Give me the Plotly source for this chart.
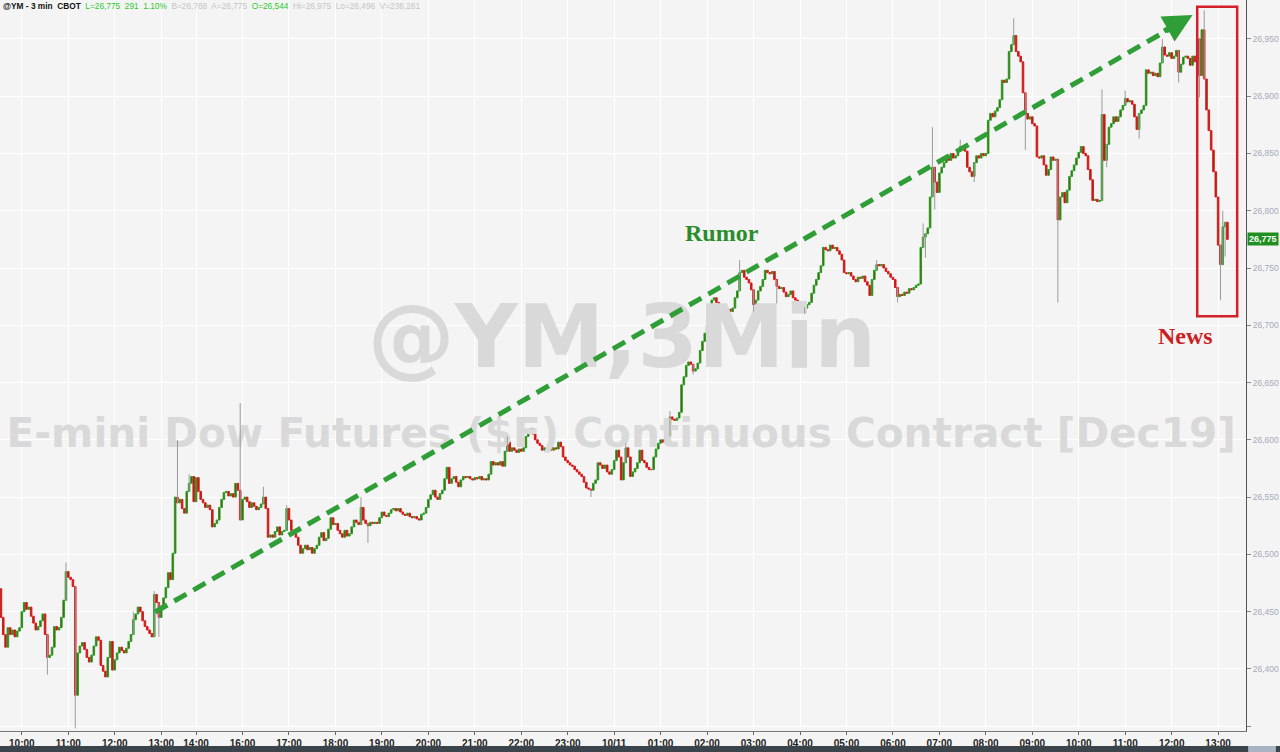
import plotly.graph_objects as go

# ---------------- DATA (3-minute candles) ----------------
first_open = 26470
closes_by_hour = [
    # 09:33-10:30
    [26445, 26430, 26419, 26436, 26430, 26434, 26428, 26433, 26436, 26450,
     26458, 26452, 26454, 26446, 26440, 26434, 26437, 26442, 26448, 26430],
    [26410, 26412, 26419, 26437, 26434, 26436, 26445, 26460, 26485, 26480,
     26478, 26472, 26377, 26414, 26420, 26423, 26417, 26410, 26406, 26412],
    [26420, 26428, 26425, 26403, 26398, 26393, 26410, 26424, 26399, 26408,
     26414, 26419, 26416, 26414, 26418, 26424, 26430, 26443, 26448, 26454],
    [26450, 26442, 26437, 26434, 26431, 26428, 26465, 26458, 26445, 26455,
     26462, 26471, 26484, 26478],
    # 13:30-13:57
    [26501, 26550, 26545, 26548, 26540, 26536, 26555, 26562, 26568, 26546],
    # 15:00
    [26567, 26555, 26548, 26545, 26541, 26543, 26539, 26524, 26527, 26530,
     26541, 26548, 26554, 26555, 26551, 26553, 26550, 26562, 26556, 26530],
    # 16:00
    [26548, 26550, 26546, 26541, 26545, 26542, 26539, 26541, 26544, 26550,
     26540, 26515, 26517, 26515, 26520, 26524, 26517, 26520, 26521, 26540],
    # 17:00
    [26530, 26521, 26518, 26515, 26508, 26501, 26505, 26508, 26504, 26506,
     26501, 26505, 26508, 26515, 26519, 26512, 26514, 26522, 26532, 26526],
    # 18:00
    [26527, 26521, 26518, 26515, 26521, 26516, 26518, 26524, 26530, 26528,
     26526, 26541, 26530, 26527, 26525, 26528, 26527, 26528, 26527, 26532],
    # 19:00
    [26537, 26534, 26533, 26536, 26539, 26540, 26538, 26540, 26537, 26535,
     26534, 26536, 26533, 26532, 26533, 26531, 26530, 26535, 26536, 26541],
    # 20:00
    [26548, 26552, 26556, 26550, 26548, 26553, 26556, 26566, 26576, 26562,
     26566, 26568, 26563, 26559, 26565, 26568, 26567, 26568, 26566, 26565],
    # 21:00
    [26567, 26566, 26568, 26565, 26566, 26565, 26570, 26581, 26578, 26580,
     26578, 26581, 26577, 26590, 26598, 26590, 26593, 26591, 26589, 26592],
    # 22:00
    [26590, 26593, 26603, 26606, 26610, 26605, 26600, 26597, 26595, 26591,
     26593, 26592, 26594, 26591, 26593, 26592, 26598, 26594, 26585, 26582],
    # 23:00
    [26580, 26578, 26577, 26574, 26572, 26570, 26568, 26563, 26558, 26557,
     26556, 26562, 26565, 26580, 26578, 26575, 26578, 26572, 26570, 26574],
    # 00:00 (10/11)
    [26582, 26591, 26585, 26565, 26580, 26593, 26585, 26568, 26572, 26575,
     26580, 26591, 26582, 26580, 26576, 26574, 26574, 26585, 26592, 26597],
    # 01:00
    [26600, 26598, 26604, 26603, 26620, 26618, 26617, 26619, 26624, 26648,
     26655, 26665, 26668, 26666, 26660, 26662, 26667, 26678, 26686, 26693],
    # 02:00
    [26700, 26707, 26722, 26724, 26720, 26718, 26715, 26713, 26711, 26714,
     26712, 26715, 26724, 26730, 26746, 26748, 26742, 26740, 26737, 26731],
    # 03:00
    [26718, 26722, 26730, 26734, 26740, 26748, 26746, 26745, 26747, 26740,
     26734, 26732, 26733, 26729, 26725, 26727, 26730, 26724, 26722, 26720],
    # 04:00
    [26718, 26716, 26715, 26718, 26720, 26728, 26735, 26740, 26746, 26752,
     26768, 26766, 26765, 26770, 26767, 26768, 26765, 26762, 26757, 26746],
    # 05:00
    [26745, 26746, 26743, 26740, 26738, 26742, 26741, 26743, 26738, 26735,
     26726, 26740, 26748, 26753, 26752, 26753, 26750, 26747, 26745, 26742],
    # 06:00
    [26740, 26733, 26725, 26727, 26726, 26729, 26728, 26732, 26731, 26733,
     26735, 26736, 26768, 26777, 26780, 26785, 26812, 26838, 26825, 26816],
    # 07:00
    [26833, 26838, 26842, 26848, 26844, 26850, 26846, 26848, 26852, 26856,
     26855, 26852, 26838, 26834, 26830, 26842, 26848, 26846, 26850, 26848],
    # 08:00
    [26850, 26879, 26885, 26882, 26887, 26890, 26897, 26914, 26912, 26915,
     26939, 26945, 26953, 26939, 26935, 26930, 26903, 26885, 26880, 26882],
    # 09:00
    [26876, 26874, 26847, 26846, 26848, 26840, 26831, 26836, 26847, 26844,
     26845, 26792, 26812, 26816, 26807, 26818, 26830, 26835, 26840, 26846],
    # 10:00
    [26851, 26856, 26850, 26848, 26836, 26827, 26809, 26810, 26808, 26809,
     26884, 26844, 26858, 26873, 26876, 26882, 26878, 26882, 26888, 26892],
    # 11:00
    [26898, 26895, 26896, 26893, 26882, 26871, 26885, 26888, 26892, 26923,
     26920, 26921, 26918, 26920, 26917, 26929, 26943, 26936, 26935, 26938],
    # 12:00
    [26933, 26935, 26940, 26921, 26928, 26934, 26935, 26933, 26927, 26935,
     26930, 26950, 26918, 26958, 26915, 26888, 26870, 26853, 26834, 26812],
    # 13:00
    [26770, 26753, 26786, 26790, 26775],
]

# wicks that stick out of the bodies (candle index -> price)
wick_hi_idx = [28, 57, 66, 76, 81, 103, 113, 123, 155, 218, 269, 288, 318, 377,
               397, 401, 413, 436, 474, 484, 500, 515, 518, 526]
wick_hi_val = [26493, 26450, 26468, 26600, 26570, 26632, 26559, 26543, 26550, 26603,
               26597, 26625, 26757, 26757, 26789, 26873, 26862, 26968, 26906, 26905,
               26950, 26970, 26975, 26800]
wick_lo_idx = [20, 32, 68, 158, 254, 298, 324, 334, 346, 386, 398, 402, 419, 441,
               455, 476, 490, 507, 515, 516, 525, 527]
wick_lo_val = [26395, 26348, 26428, 26510, 26550, 26657, 26712, 26719, 26710, 26720,
               26759, 26801, 26825, 26853, 26720, 26838, 26863, 26912, 26903, 26899,
               26722, 26760]

tick_idx = [9, 29, 49, 69, 84, 104, 124, 144, 164, 184, 204, 224, 244, 264, 284,
            304, 324, 344, 364, 384, 404, 424, 444, 464, 484, 504, 524]
tick_text = ["10:00", "11:00", "12:00", "13:00", "14:00", "16:00", "17:00", "18:00",
             "19:00", "20:00", "21:00", "22:00", "23:00", "10/11", "01:00", "02:00",
             "03:00", "04:00", "05:00", "06:00", "07:00", "08:00", "09:00", "10:00",
             "11:00", "12:00", "13:00"]

price_ticks = [26350, 26400, 26450, 26500, 26550, 26600, 26650, 26700, 26750,
               26800, 26850, 26900, 26950]
last_price = 26775

# ---------------- BUILD ----------------
closes = [c for hour in closes_by_hour for c in hour]
n = len(closes)
idx = list(range(n))
opens = [first_open] + closes[:-1]
body_hi = [max(o, c) for o, c in zip(opens, closes)]
body_lo = [min(o, c) for o, c in zip(opens, closes)]

hi = dict(zip(wick_hi_idx, wick_hi_val))
lo = dict(zip(wick_lo_idx, wick_lo_val))
wx, wy = [], []
for i in sorted(set(hi) | set(lo)):
    wx += [i, i, None]
    wy += [lo.get(i, body_lo[i]), hi.get(i, body_hi[i]), None]

BG = "#f4f4f4"
WM = "#d9d9d9"
GREEN = "#22a022"
RED = "#e3141b"
BROWN = "#7a3d0c"

fig = go.Figure()

# watermark (drawn first so that it sits behind the candles)
fig.add_trace(go.Scatter(
    x=[267.4], y=[26683], mode="text", text=["<b>@YM,3Min</b>"],
    textfont=dict(family="DejaVu Sans", size=87, color=WM),
    hoverinfo="skip", showlegend=False))
fig.add_trace(go.Scatter(
    x=[267.0], y=[26602.5], mode="text",
    text=["<b>E-mini Dow Futures ($F) Continuous Contract [Dec19]</b>"],
    textfont=dict(family="DejaVu Sans", size=40.6, color=WM),
    hoverinfo="skip", showlegend=False))

fig.add_trace(go.Scatter(x=wx, y=wy, mode="lines",
                         line=dict(color="#9b9b9b", width=1),
                         hoverinfo="skip", showlegend=False))

fig.add_trace(go.Candlestick(
    x=idx, open=opens, high=body_hi, low=body_lo, close=closes,
    increasing=dict(line=dict(color=GREEN, width=1), fillcolor=BROWN),
    decreasing=dict(line=dict(color=RED, width=1), fillcolor=BROWN),
    whiskerwidth=0, showlegend=False))

# dashed trend arrow
fig.add_shape(type="line", x0=66.4, y0=26449.7, x1=502.5, y1=26958,
              line=dict(color="#2f9e36", width=5, dash="14px,8px"), layer="above")
fig.add_annotation(x=513.0, y=26971, ax=-30, ay=17, xref="x", yref="y",
                   showarrow=True, arrowhead=2, arrowsize=1.15, arrowwidth=5,
                   arrowcolor="#2f9e36", text="")

# red box
fig.add_shape(type="rect", x0=515.0, x1=532.2, y0=26708, y1=26978,
              line=dict(color="#d3202a", width=2.5), layer="above")

fig.add_annotation(x=310.5, y=26780.6, text="<b>Rumor</b>", showarrow=False,
                   font=dict(family="Liberation Serif", size=24, color="#2b8c2b"))
fig.add_annotation(x=509.8, y=26690.7, text="<b>News</b>", showarrow=False,
                   font=dict(family="Liberation Serif", size=24, color="#cc1f24"))

# last price flag
fig.add_annotation(xref="paper", x=1.0, y=last_price, xanchor="left", yanchor="middle",
                   text="<b>26,775</b>", showarrow=False, bgcolor="#1f8f1f",
                   borderpad=1, xshift=1,
                   font=dict(family="Liberation Sans", size=9, color="white"))

# header line
hdr = ('<b><span style="color:#111">@YM - 3 min  CBOT</span></b>  '
       '<span style="color:#2ec82e">L=26,775  291  1.10%</span>  '
       '<span style="color:#c4c4c4">B=26,768  A=26,775</span>  '
       '<span style="color:#2ec82e">O=26,544</span>  '
       '<span style="color:#c4c4c4">Hi=26,975  Lo=26,496  V=236,281</span>')
fig.add_annotation(xref="paper", yref="paper", x=0.0, y=1.0, xanchor="left",
                   yanchor="top", text=hdr, showarrow=False, xshift=1, yshift=1,
                   font=dict(family="Liberation Sans", size=8.3, color="#111"))

# bottom scrollbar strip
fig.add_shape(type="rect", xref="paper", yref="paper", x0=-0.01, x1=1.03,
              y0=-0.0287, y1=-0.0205, fillcolor="#3b434b", line=dict(width=0),
              layer="above")
fig.add_shape(type="rect", xref="paper", yref="paper", x0=1.0017, x1=1.024,
              y0=-0.0287, y1=-0.0205, fillcolor="#aab3c2", line=dict(width=0),
              layer="above")

fig.update_layout(
    width=1280, height=752,
    margin=dict(l=0, r=34, t=0, b=21, autoexpand=False),
    paper_bgcolor=BG, plot_bgcolor=BG,
    showlegend=False,
    boxgap=0.05,
    xaxis=dict(range=[-0.4, 536], tickmode="array", tickvals=tick_idx,
               ticktext=tick_text, ticks="outside", ticklen=3, tickcolor="#666",
               showline=True, linecolor="#777", linewidth=1,
               showgrid=True, gridcolor="#ffffff", gridwidth=1, zeroline=False,
               rangeslider=dict(visible=False),
               tickfont=dict(family="Liberation Sans", size=10, color="#222",
                             weight="bold")),
    yaxis=dict(side="right", range=[26345.8, 26984], tickmode="array",
               tickvals=price_ticks,
               ticktext=[""] + [f"{v:,}" for v in price_ticks[1:]],
               ticks="outside", ticklen=4, tickcolor="#888",
               showline=True, linecolor="#555", linewidth=1,
               showgrid=True, gridcolor="#ffffff", gridwidth=1, zeroline=False,
               tickfont=dict(family="Liberation Sans", size=8.5, color="#a6abba")),
)

fig.write_html("out.html", config={"displayModeBar": False},
               post_script="document.body.style.margin='0';"
                           "document.body.style.overflow='hidden';")
